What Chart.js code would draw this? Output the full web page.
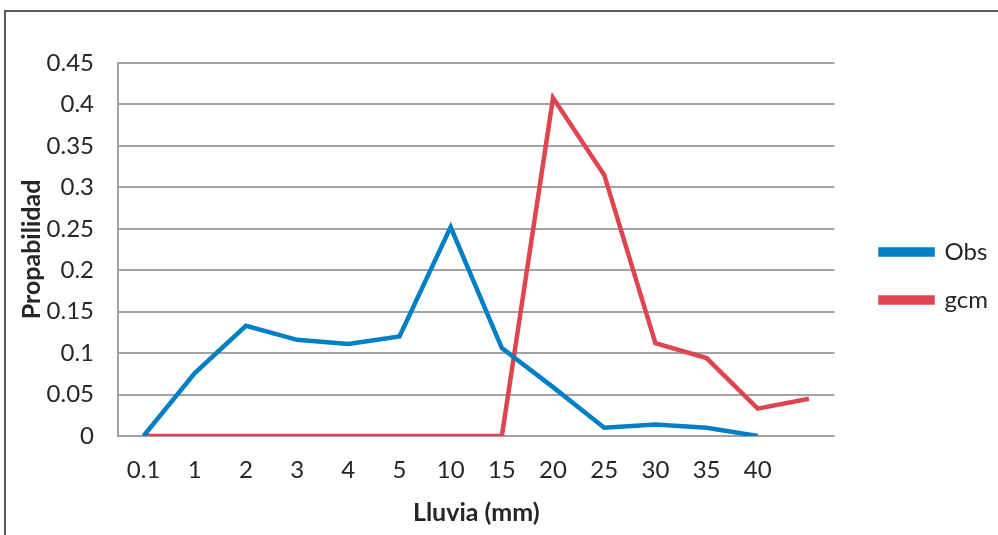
<!DOCTYPE html>
<html>
<head>
<meta charset="utf-8">
<script src="https://cdn.jsdelivr.net/npm/chart.js@4"></script>
<style>
  html, body { margin: 0; padding: 0; background: #fff; }
  #wrap { position: relative; width: 998px; height: 535px; overflow: hidden; }
  #frame { position: absolute; left: 4px; top: 10px; width: 1100px; height: 700px;
           border-left: 2px solid #5a5a5a; border-top: 2px solid #5a5a5a; }
  canvas { position: absolute; left: 0; top: 0; }
</style>
</head>
<body>
<div id="wrap">
  <div id="frame"></div>
  <canvas id="chart" width="998" height="535"></canvas>
</div>
<script>
// rainfall classes (mm); last class has no label
const labels = ['0.1', '1', '2', '3', '4', '5', '10', '15', '20', '25', '30', '35', '40', ''];
const obs = [0, 0.076, 0.133, 0.116, 0.111, 0.120, 0.252, 0.106, 0.059, 0.010, 0.014, 0.010, 0, null];
const gcm = [0, 0, 0, 0, 0, 0, 0, 0, 0.408, 0.315, 0.112, 0.094, 0.033, 0.045];
const yTicks = [0, 0.05, 0.1, 0.15, 0.2, 0.25, 0.3, 0.35, 0.4, 0.45];

const font = 'Lato, "Open Sans", sans-serif';
const textColor = '#262626';
const gridColor = '#a3a3a3';

new Chart(document.getElementById('chart').getContext('2d'), {
    type: 'line',
    data: {
        labels: labels,
        datasets: [{
            label: 'Obs',
            data: obs,
            borderColor: '#0080c4',
            backgroundColor: '#0080c4',
            borderWidth: 4.5,
            pointRadius: 0,
            tension: 0,
            fill: false
        }, {
            label: 'gcm',
            data: gcm,
            borderColor: '#e0444f',
            backgroundColor: '#e0444f',
            borderWidth: 4.5,
            pointRadius: 0,
            tension: 0,
            fill: false
        }]
    },
    options: {
        responsive: false,
        animation: false,
        // bottom padding keeps the legend centred above the axis title
        layout: { padding: { top: 63, right: 0, bottom: 46, left: 0 } },
        plugins: {
            tooltip: { enabled: false },
            legend: {
                position: 'right',
                labels: {
                    color: textColor,
                    font: { family: font, size: 24 },
                    boxWidth: 52,
                    boxHeight: 5,
                    padding: 24
                }
            }
        },
        scales: {
            x: {
                offset: true,
                grid: { display: false, drawTicks: false },
                border: { display: false },
                ticks: {
                    color: textColor,
                    font: { family: font, size: 24 },
                    padding: 20,
                    maxRotation: 0,
                    autoSkip: false
                },
                title: {
                    display: true,
                    text: 'Lluvia (mm)',
                    color: textColor,
                    font: { family: font, size: 25, weight: 'bold' },
                    padding: { top: 4, bottom: -39 }
                },
                afterFit: s => { s.height = 53; }
            },
            y: {
                min: 0,
                max: 0.45,
                afterBuildTicks: s => { s.ticks = yTicks.map(v => ({ value: v })); },
                grid: { color: gridColor, lineWidth: 2, drawTicks: false },
                border: { color: gridColor, width: 2 },
                ticks: {
                    color: textColor,
                    font: { family: font, size: 24 },
                    padding: 24,
                    callback: v => String(+v.toFixed(2))
                },
                title: {
                    display: true,
                    text: 'Propabilidad',
                    color: textColor,
                    font: { family: font, size: 25, weight: 'bold' },
                    padding: { top: 17, bottom: 4 }
                },
                afterFit: s => { s.width = 118; }
            },
            yRight: {
                position: 'right',
                display: true,
                grid: { display: false, drawTicks: false },
                border: { display: false },
                ticks: { display: false },
                afterFit: s => { s.width = 22; }
            }
        }
    }
});
</script>
</body>
</html>
